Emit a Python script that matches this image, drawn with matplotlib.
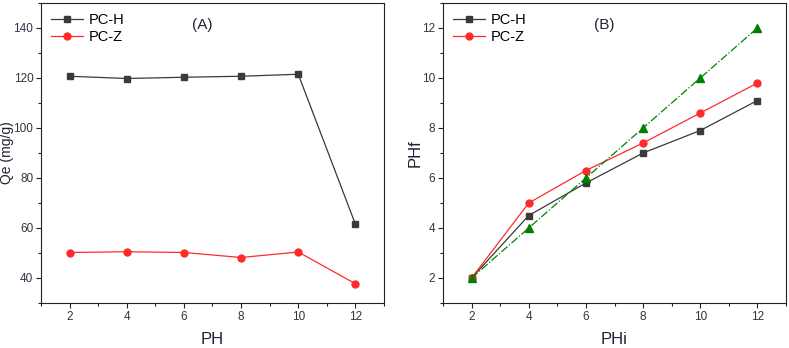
import numpy as np
import matplotlib
matplotlib.use('Agg')
import matplotlib.pyplot as plt
from matplotlib.ticker import MultipleLocator

plt.rcParams['font.family'] = ['Liberation Sans', 'DejaVu Sans']

# (A) adsorption capacity vs pH
ph = [2, 4, 6, 8, 10, 12]
qe_pch = [120.7, 119.8, 120.3, 120.7, 121.5, 61.5]
qe_pcz = [50.2, 50.5, 50.2, 48.2, 50.4, 37.7]

# (B) final pH vs initial pH
phi = [2, 4, 6, 8, 10, 12]
phf_pch = [2.0, 4.5, 5.8, 7.0, 7.9, 9.1]
phf_pcz = [2.0, 5.0, 6.3, 7.4, 8.6, 9.8]
phf_ref = [2, 4, 6, 8, 10, 12]

gray = '#3a3a3a'
red = '#ff2a2a'
green = '#008000'
tick_col = '#333344'

fig = plt.figure(figsize=(7.89, 3.48), dpi=100)
ax1 = fig.add_axes([41 / 789, 1 - 303 / 348, 343 / 789, 300 / 348])
ax2 = fig.add_axes([443 / 789, 1 - 303 / 348, 343 / 789, 300 / 348])

ax1.plot(ph, qe_pch, color=gray, lw=0.9, marker='s', ms=5, label='PC-H')
ax1.plot(ph, qe_pcz, color=red, lw=0.9, marker='o', ms=5, label='PC-Z')
ax1.set_xlim(1, 13)
ax1.set_ylim(30, 150)
ax1.set_xticks(ph)
ax1.set_yticks([40, 60, 80, 100, 120, 140])
ax1.xaxis.set_minor_locator(MultipleLocator(1))
ax1.yaxis.set_minor_locator(MultipleLocator(10))
ax1.set_xlabel('PH', fontsize=12, color='#222233')
ax1.set_ylabel('Qe (mg/g)', fontsize=10, color='#222233')
ax1.yaxis.set_label_coords(-0.0977, 0.5)
ax1.xaxis.set_label_coords(0.5, -0.122)
ax1.text(0.47, 0.925, '(A)', transform=ax1.transAxes, ha='center', va='center', fontsize=11, color='#222233')

ax2.plot(phi, phf_pch, color=gray, lw=0.9, marker='s', ms=5, label='PC-H')
ax2.plot(phi, phf_pcz, color=red, lw=0.9, marker='o', ms=5, label='PC-Z')
ax2.plot(phi, phf_ref, color=green, lw=0.9, ls='-.', marker='^', ms=6)
ax2.set_xlim(1, 13)
ax2.set_ylim(1, 13)
ax2.set_xticks(phi)
ax2.set_yticks([2, 4, 6, 8, 10, 12])
ax2.xaxis.set_minor_locator(MultipleLocator(1))
ax2.yaxis.set_minor_locator(MultipleLocator(1))
ax2.set_xlabel('PHi', fontsize=12, color='#222233')
ax2.set_ylabel('PHf', fontsize=12, color='#222233')
ax2.yaxis.set_label_coords(-0.08, 0.5)
ax2.xaxis.set_label_coords(0.5, -0.122)
ax2.text(0.47, 0.925, '(B)', transform=ax2.transAxes, ha='center', va='center', fontsize=11, color='#222233')

for ax in (ax1, ax2):
    ax.tick_params(which='major', direction='out', length=3.5, width=0.8, labelsize=8.5, pad=2,
                   colors='#222222', labelcolor=tick_col)
    ax.tick_params(which='minor', direction='out', length=2.5, width=0.8, colors='#222222')
    ax.xaxis.label.set_verticalalignment('center')
    ax.yaxis.label.set_verticalalignment('center')
    for s in ax.spines.values():
        s.set_linewidth(0.8)
        s.set_color('#222222')
    ax.legend(loc='upper left', frameon=False, fontsize=10.5, handlelength=2.2,
              borderaxespad=0.3, handletextpad=0.4, labelspacing=0.2)

fig.savefig('out.png', dpi=100)
